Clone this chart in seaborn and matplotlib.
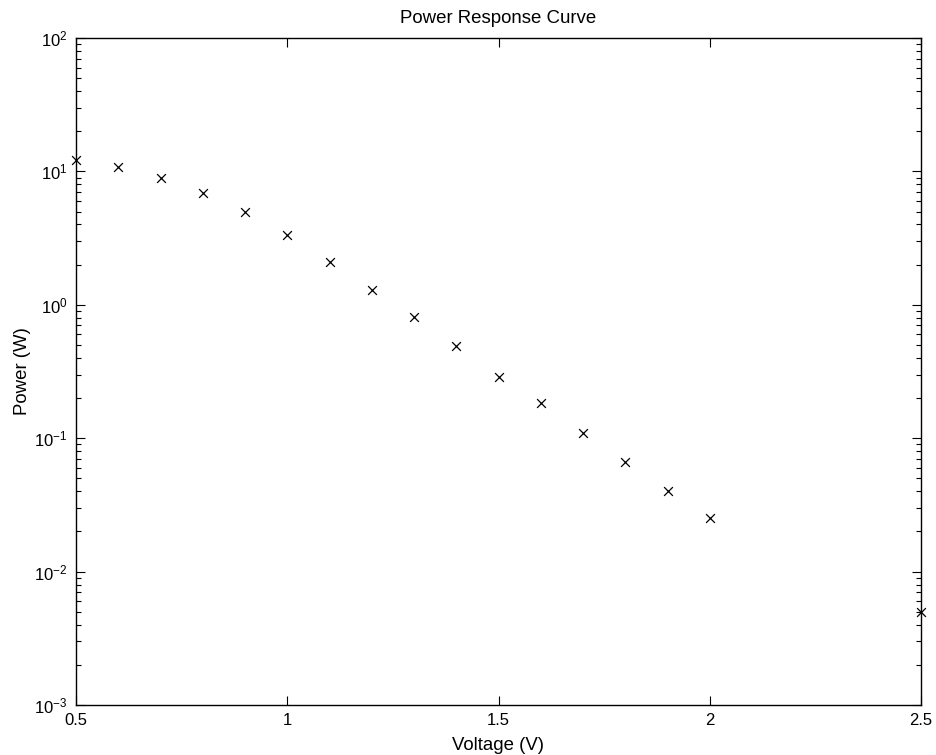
import matplotlib
matplotlib.use("Agg")
import matplotlib.pyplot as plt
import seaborn as sns
import pandas as pd
from matplotlib.ticker import LogLocator, FixedLocator, NullFormatter

voltage = [0.5, 0.6, 0.7, 0.8, 0.9, 1.0, 1.1, 1.2, 1.3, 1.4, 1.5, 1.6, 1.7, 1.8, 1.9, 2.0, 2.5]
power = [12.2, 10.7, 8.97, 6.85, 4.99, 3.34, 2.08, 1.29, 0.805, 0.489, 0.289, 0.184, 0.110, 0.0667, 0.040, 0.0252, 0.0050]
x_ticks = [0.5, 1, 1.5, 2, 2.5]
x_tick_labels = ["0.5", "1", "1.5", "2", "2.5"]
y_ticks = [1e-3, 1e-2, 1e-1, 1e0, 1e1, 1e2]
y_tick_labels = [r"$\mathregular{10^{-3}}$", r"$\mathregular{10^{-2}}$", r"$\mathregular{10^{-1}}$",
                 r"$\mathregular{10^{0}}$", r"$\mathregular{10^{1}}$", r"$\mathregular{10^{2}}$"]

sns.set_style("white")
plt.rcParams["font.family"] = ["Liberation Sans", "DejaVu Sans"]
plt.rcParams["mathtext.fontset"] = "custom"
plt.rcParams["mathtext.rm"] = "Liberation Sans"
plt.rcParams["mathtext.it"] = "Liberation Sans:italic"
plt.rcParams["mathtext.bf"] = "Liberation Sans:bold"
plt.rcParams["text.color"] = "black"
plt.rcParams["axes.labelcolor"] = "black"

df = pd.DataFrame({"Voltage": voltage, "Power": power})

fig = plt.figure(figsize=(9.36, 7.55), dpi=100)
ax = fig.add_axes([76 / 936, 1 - 705 / 755, (921 - 76) / 936, (705 - 38) / 755])

sns.scatterplot(data=df, x="Voltage", y="Power", ax=ax, marker="x", color="black",
                s=40, linewidth=0.9, clip_on=False, zorder=3)

ax.set_yscale("log")
ax.set_xlim(0.5, 2.5)
ax.set_ylim(1e-3, 1e2)
ax.xaxis.set_major_locator(FixedLocator(x_ticks))
ax.set_xticklabels(x_tick_labels)
ax.yaxis.set_major_locator(FixedLocator(y_ticks))
ax.set_yticklabels(y_tick_labels)
ax.yaxis.set_minor_locator(LogLocator(base=10, subs=range(2, 10), numticks=20))
ax.yaxis.set_minor_formatter(NullFormatter())

for s in ax.spines.values():
    s.set_visible(True)
    s.set_color("black")
    s.set_linewidth(1.0)

ax.tick_params(which="both", direction="in", top=True, right=True, left=True, bottom=True,
               color="black", width=0.8, labelsize=12, labelcolor="black")
ax.tick_params(which="major", length=6.5, pad=6)
ax.tick_params(which="minor", length=3.6)

ax.set_xlabel("Voltage (V)", fontsize=13.4, labelpad=6, color="black")
ax.set_ylabel("Power (W)", fontsize=13.4, labelpad=2, color="black")
ax.set_title("Power Response Curve", fontsize=13.4, pad=11, color="black")

fig.savefig("out.png", dpi=100, facecolor="white")
